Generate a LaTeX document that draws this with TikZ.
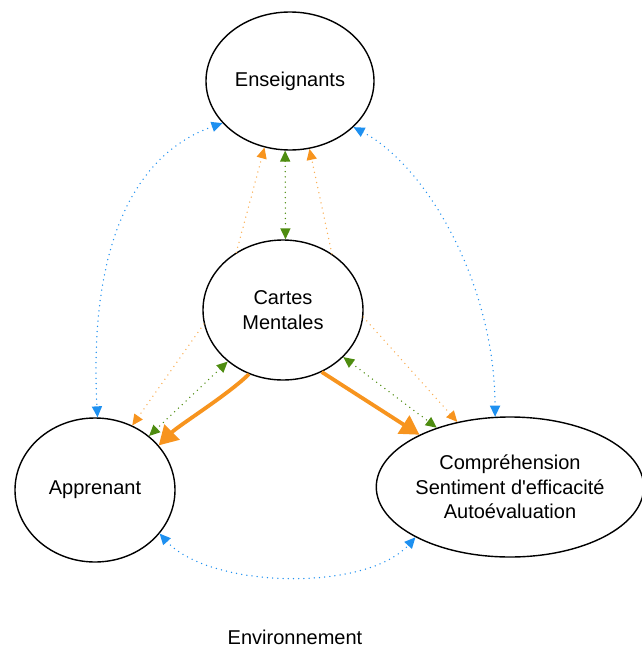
\documentclass[tikz,border=0pt]{standalone}
\usepackage{fontspec}
\setmainfont{Liberation Sans}[Ligatures=TeXOff]
\usetikzlibrary{shapes.geometric,arrows.meta}
\definecolor{cblue}{HTML}{1E90F0}
\definecolor{corange}{HTML}{F7941E}
\definecolor{cgreen}{HTML}{4E8C10}
\tikzset{
  bubble/.style={ellipse,draw=black,line width=1.4pt,fill=white,inner sep=0pt,align=center,
    font=\fontsize{20}{24.5}\selectfont},
  dots/.style={line width=1.5pt,dash pattern=on 0pt off 5.2pt,line cap=round},
  bluelink/.style={dots,draw=cblue,{Triangle[length=11pt,width=10pt]}-{Triangle[length=11pt,width=10pt]},color=cblue},
  greenlink/.style={dots,draw=cgreen,{Triangle[length=11pt,width=10pt]}-{Triangle[length=11pt,width=10pt]},color=cgreen},
  orangelink/.style={dots,draw=corange!75,-{Triangle[length=11pt,width=10pt,color=corange]}},
  biglink/.style={draw=corange,line width=3.8pt,-{Triangle[length=19pt,width=21pt]},color=corange},
}
\begin{document}
\begin{tikzpicture}[x=1pt,y=-1pt]
\useasboundingbox (0,0) rectangle (641,653);
\node[bubble,minimum width=168pt,minimum height=138pt] (ens) at (290,81) {Enseignants};
\node[bubble,minimum width=160pt,minimum height=140pt] (car) at (283,310) {Cartes\\Mentales};
\node[bubble,minimum width=160pt,minimum height=144pt] (app) at (95,490) {Apprenant};
\node[bubble,minimum width=262pt,minimum height=140pt] (comp) at (510,487) {Compréhension\\Sentiment d'efficacité\\Autoévaluation};
\node[font=\fontsize{20}{24}\selectfont] (env) at (295,637) {Environnement};

% blue links
\draw[bluelink] (ens.212) .. controls +(-100,35) and +(-8,-150) .. (app.88);
\draw[bluelink] (ens.324) .. controls +(75,40) and +(0,-130) .. (comp.102);
\draw[bluelink] (app.326) .. controls +(50,55) and +(-50,55) .. (comp.208);

% green links
\draw[greenlink] (ens.266) -- (car.88);
\draw[greenlink] (car.223) -- (app.45);
\draw[greenlink] (car.322) -- (comp.141);

% orange dotted
\draw[orangelink] (car.129) -- (ens.249);
\draw[orangelink] (car.49) -- (ens.286);
\draw[orangelink] (car.190) -- (app.60);
\draw[orangelink] (car.355) -- (comp.129);

% big orange
\draw[biglink] (car.242) .. controls +(-20,20) and +(20,-20) .. (app.35);
\draw[biglink] (car.302) -- (comp.150);
\end{tikzpicture}
\end{document}
